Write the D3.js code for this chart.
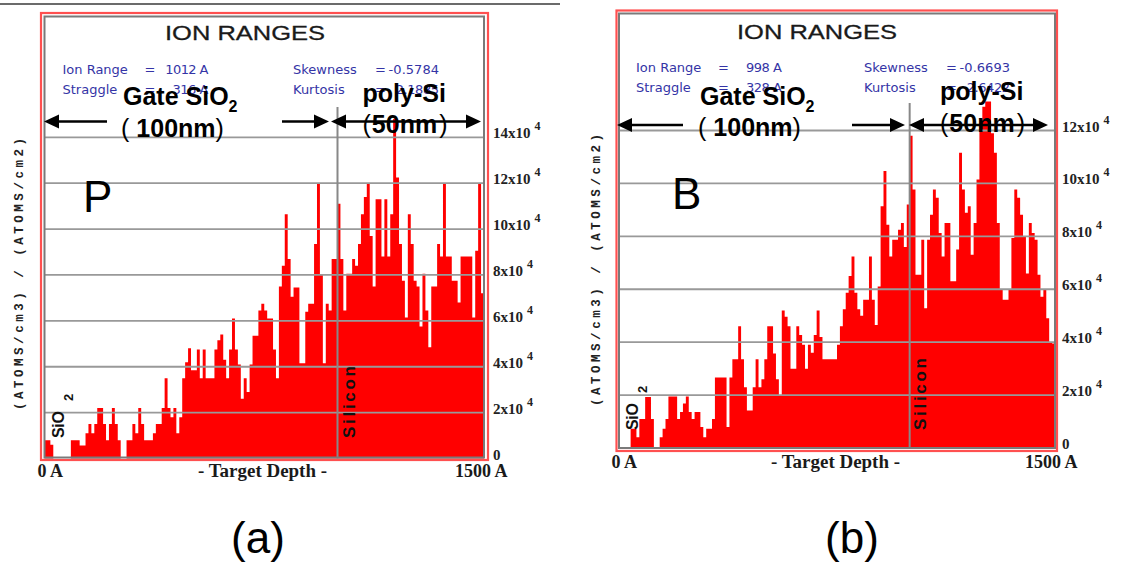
<!DOCTYPE html>
<html>
<head>
<meta charset="utf-8">
<script src="https://cdn.jsdelivr.net/npm/d3@7"></script>
<style>
  body { margin: 0; background: #fff; }
  svg { display: block; }
</style>
</head>
<body>
<svg id="chart" width="1122" height="564"></svg>
<script>
// depth bins of 10 A from 0 to 1500 A, gate oxide / silicon boundary at 1000 A
const binWidth = 10;
const depthMax = 1500;
const siliconDepth = 1000;

// (a) phosphorus, values in units of 1e4 (atoms/cm3)/(atoms/cm2)
const pValues = [
  0.8, 0.8, 0.6, 0, 0, 0, 0, 0, 0, 0.8,
  0.8, 0.8, 0.57, 0.57, 1.1, 1.5, 1.1, 1.5, 2.2, 2.2,
  1.5, 0.8, 1.5, 2.2, 1.5, 0.8, 0, 0, 0.8, 0.8,
  1.5, 1.1, 2.2, 1.5, 0.8, 0.8, 0.8, 1.1, 1.5, 1.5,
  2.2, 3.5, 2.2, 1.8, 2.2, 1.1, 1.8, 3.5, 4.2, 4.8,
  3.85, 3.85, 4.75, 3.5, 4.75, 3.5, 3.5, 3.5, 4.75, 5.15,
  5.4, 4.3, 3.5, 4.75, 6.1, 4.75, 4.1, 2.6, 3.5, 2.9,
  4.1, 5.35, 5.35, 6.45, 6.75, 6.45, 6.1, 6.1, 4.75, 3.5,
  7.5, 8.4, 10.65, 8.7, 7.05, 7.45, 7.45, 4.15, 4.15, 6.4,
  6.75, 6.75, 9.35, 12, 8.0, 4.15, 6.75, 6.45, 8.7, 8.7,
  11.1, 8.7, 6.45, 8.05, 8.05, 8.7, 8.4, 9.35, 10.65, 11.4,
  12, 9.7, 7.5, 11.3, 11.3, 8.8, 11.3, 8.8, 10.65, 14.8,
  12.25, 9.35, 7.75, 6.15, 10.65, 9.35, 7.75, 7.5, 5.75, 8.05,
  6.45, 4.85, 7.5, 7.5, 9.35, 8.8, 12, 8.8, 8.8, 7.75,
  7.75, 6.8, 8.8, 8.8, 8.8, 8.8, 6.15, 9.05, 12, 7.2
];

// (b) boron
const bValues = [
  0, 0, 0, 0, 0.73, 0.73, 0.41, 1.1, 1.1, 1.93,
  1.93, 1.1, 0, 0, 0.41, 0.73, 1.1, 1.95, 1.95, 1.95,
  1.1, 1.36, 1.68, 1.95, 1.36, 1.1, 1.36, 1.36, 0.79, 0.41,
  0.73, 0.73, 1.1, 2.66, 2.66, 2.66, 2.66, 0.79, 2.66, 3.35,
  3.35, 4.6, 3.35, 2.3, 1.42, 1.42, 2.3, 3.35, 2.3, 2.6,
  3.35, 4.6, 4.6, 3.57, 2.6, 2.0, 5.2, 4.96, 4.6, 3.0,
  3.0, 4.6, 4.27, 3.9, 3.0, 3.9, 3.6, 4.27, 5.2, 4.2,
  3.35, 3.35, 3.35, 3.35, 3.35, 3.9, 4.6, 5.24, 5.87, 6.5,
  7.24, 5.87, 5.24, 5.0, 5.6, 5.6, 7.24, 5.6, 4.65, 6.1,
  9.14, 10.47, 8.44, 7.24, 7.87, 7.87, 8.25, 8.5, 7.6, 9.2,
  11.8, 9.77, 6.55, 6.55, 7.87, 5.28, 7.87, 8.82, 9.77, 9.46,
  8.13, 7.24, 8.5, 8.5, 6.3, 6.3, 7.5, 11.16, 9.77, 8.89,
  9.14, 7.3, 8.5, 10.15, 12.3, 12.9, 13.1, 13.1, 11.9, 11.16,
  8.5, 5.98, 5.6, 5.6, 5.98, 7.94, 9.77, 9.46, 8.82, 8.0,
  6.6, 8.5, 8.13, 7.87, 6.55, 5.72, 5.98, 4.9, 4.0, 3.95
];

const pTicks = [0, 2, 4, 6, 8, 10, 12, 14];
const bTicks = [0, 2, 4, 6, 8, 10, 12];

const statLabels = ["Ion Range", "Straggle", "Skewness", "Kurtosis"];
const pStatValues = ["1012 A", "316 A", "-0.5784", "2.1885"];
const bStatValues = ["998 A", "328 A", "-0.6693", "2.6422"];

const panels = [
  {
    values: pValues, ticks: pTicks, stats: pStatValues, letter: "P", caption: "(a)",
    plotLeft: 44.5, plotRight: 484, base: 458.5, top: 137.3, yMax: 14,
    outer: [41, 13, 447, 447], inner: [44.5, 16.5, 439.5, 441],
    titleX: 245, titleY: 40,
    statCols: [62.5, 293], statRows: [74, 94],
    gate: [123, 105], gateNm: [121, 136.5], poly: [362.5, 101.5], polyNm: [362.5, 133],
    arrowY: 121.5, arrows: [[107, 44, false], [282, 329, false], [331, 481, true]],
    siTop: 107, letterPos: [83, 212],
    sio2: [64, 438], silicon: [355, 438], yLabel: [23, 410],
    tickX: 493, bottomY: 477, bottomX: [37.5, 198, 455],
    captionX: 258
  },
  {
    values: bValues, ticks: bTicks, stats: bStatValues, letter: "B", caption: "(b)",
    plotLeft: 619, plotRight: 1055, base: 448, top: 130.5, yMax: 12,
    outer: [616.5, 10.5, 440.5, 440.5], inner: [619, 13.5, 436, 434.5],
    titleX: 817, titleY: 39,
    statCols: [636, 864], statRows: [71.5, 91.5],
    gate: [700, 105], gateNm: [698, 136], poly: [940, 100], polyNm: [940, 131.5],
    arrowY: 125, arrows: [[683, 617, false], [852, 905, false], [909, 1048, true]],
    siTop: 103, letterPos: [672, 209],
    sio2: [638, 430], silicon: [926, 430], yLabel: [600, 406],
    tickX: 1062, bottomY: 468, bottomX: [611.5, 771, 1025],
    captionX: 852
  }
];

const svg = d3.select("#chart");
const sans = "'Liberation Sans', Arial, sans-serif";
const serif = "'Liberation Serif', 'Times New Roman', serif";

// dark rule along the top of panel (a)
svg.append("line")
  .attr("x1", 0).attr("x2", 560).attr("y1", 4).attr("y2", 4)
  .attr("stroke", "#3a3a3a").attr("stroke-width", 1.5);

function drawArrow(g, x1, x2, y, both) {
  const head = 15, half = 7;
  const dir = Math.sign(x2 - x1);
  const a = both ? x1 + dir * head : x1;
  g.append("line").attr("x1", a).attr("x2", x2 - dir * head)
    .attr("y1", y).attr("y2", y).attr("stroke", "#000").attr("stroke-width", 2.5);
  const tri = (tip, d) => `M${tip},${y}L${tip - d * head},${y - half}L${tip - d * head},${y + half}Z`;
  g.append("path").attr("d", tri(x2, dir)).attr("fill", "#000");
  if (both) g.append("path").attr("d", tri(x1, -dir)).attr("fill", "#000");
}

panels.forEach(p => {
  const g = svg.append("g");
  const x = d3.scaleLinear().domain([0, depthMax]).range([p.plotLeft, p.plotRight]);
  const y = d3.scaleLinear().domain([0, p.yMax]).range([p.base, p.top]);

  // histogram as a step area
  const pts = p.values.map((v, i) => [i * binWidth, v]);
  pts.push([depthMax, p.values[p.values.length - 1]]);
  const area = d3.area()
    .curve(d3.curveStepAfter)
    .x(d => x(d[0]))
    .y0(y(0))
    .y1(d => y(d[1]));
  g.append("path").datum(pts).attr("d", area).attr("fill", "#ff0000");

  // gridlines
  g.selectAll(".grid").data(p.ticks.filter(t => t > 0)).enter().append("line")
    .attr("x1", p.plotLeft).attr("x2", p.plotRight)
    .attr("y1", d => y(d)).attr("y2", d => y(d))
    .attr("stroke", "#999").attr("stroke-width", 1.8);

  // silicon boundary
  g.append("line")
    .attr("x1", x(siliconDepth)).attr("x2", x(siliconDepth))
    .attr("y1", p.siTop).attr("y2", p.base)
    .attr("stroke", "#888").attr("stroke-width", 2);

  // frames
  g.append("rect").attr("x", p.outer[0]).attr("y", p.outer[1])
    .attr("width", p.outer[2]).attr("height", p.outer[3])
    .attr("fill", "none").attr("stroke", "#ff5050").attr("stroke-width", 2.2);
  g.append("rect").attr("x", p.inner[0]).attr("y", p.inner[1])
    .attr("width", p.inner[2]).attr("height", p.inner[3])
    .attr("fill", "none").attr("stroke", "#7a7a7a").attr("stroke-width", 2);

  // title
  g.append("text").attr("x", p.titleX).attr("y", p.titleY)
    .attr("text-anchor", "middle").attr("font-family", sans).attr("font-size", 21)
    .attr("fill", "#1a1a1a").attr("stroke", "#1a1a1a").attr("stroke-width", 0.3)
    .attr("textLength", 160).attr("lengthAdjust", "spacingAndGlyphs")
    .text("ION RANGES");

  // stats block
  statLabels.forEach((lab, i) => {
    const cx = p.statCols[Math.floor(i / 2)];
    const cy = p.statRows[i % 2];
    const st = { "font-family": "'DejaVu Sans', sans-serif", "font-size": 13, fill: "#3434a6" };
    const t1 = g.append("text").attr("x", cx).attr("y", cy).text(lab);
    const t2 = g.append("text").attr("x", cx + 82).attr("y", cy).text("=");
    const t3 = g.append("text").attr("x", cx + 146).attr("y", cy).attr("text-anchor", "end")
      .attr("textLength", p.stats[i].length * 7.2).text(p.stats[i]);
    [t1, t2, t3].forEach(t => Object.entries(st).forEach(([k, v]) => t.attr(k, v)));
  });

  // rotated layer names
  const sio = g.append("g").attr("transform", `translate(${p.sio2[0]},${p.sio2[1]}) rotate(-90)`);
  sio.append("text").attr("x", 0).attr("y", 0).attr("font-family", sans).attr("font-weight", "bold")
    .attr("font-size", 16).attr("fill", "#111").attr("textLength", 27).text("SiO");
  sio.append("text").attr("x", 37).attr("y", 9).attr("font-family", sans).attr("font-weight", "bold")
    .attr("font-size", 13).attr("fill", "#111").text("2");

  g.append("text")
    .attr("transform", `translate(${p.silicon[0]},${p.silicon[1]}) rotate(-90)`)
    .attr("font-family", sans).attr("font-weight", "bold").attr("font-size", 17)
    .attr("fill", "#111").attr("textLength", 72).attr("lengthAdjust", "spacing").text("Silicon");

  // y label
  g.append("text")
    .attr("transform", `translate(${p.yLabel[0]},${p.yLabel[1]}) rotate(-90)`)
    .attr("font-family", "'Liberation Mono', monospace").attr("font-weight", "bold")
    .attr("font-size", 12.5).attr("fill", "#222")
    .attr("textLength", 272).attr("lengthAdjust", "spacing")
    .text("(ATOMS/cm3) / (ATOMS/cm2)");

  // big ion letter
  g.append("text").attr("x", p.letterPos[0]).attr("y", p.letterPos[1])
    .attr("font-family", sans).attr("font-size", 44).attr("fill", "#000").text(p.letter);

  // layer annotations
  const gate = g.append("text").attr("x", p.gate[0]).attr("y", p.gate[1])
    .attr("font-family", sans).attr("font-weight", "bold").attr("font-size", 25).attr("fill", "#000");
  gate.append("tspan").text("Gate SiO");
  gate.append("tspan").attr("font-size", 16).attr("dy", 7).text("2");

  const gnm = g.append("text").attr("x", p.gateNm[0]).attr("y", p.gateNm[1])
    .attr("font-family", sans).attr("font-size", 25).attr("fill", "#000");
  gnm.append("tspan").text("(");
  gnm.append("tspan").attr("dx", 7).attr("font-weight", "bold").text("100nm");
  gnm.append("tspan").text(")");

  g.append("text").attr("x", p.poly[0]).attr("y", p.poly[1])
    .attr("font-family", sans).attr("font-weight", "bold").attr("font-size", 25)
    .attr("fill", "#000").text("poly-Si");

  const pnm = g.append("text").attr("x", p.polyNm[0]).attr("y", p.polyNm[1])
    .attr("font-family", sans).attr("font-size", 25).attr("fill", "#000");
  pnm.append("tspan").text("(");
  pnm.append("tspan").attr("dx", 1).attr("font-weight", "bold").text("50nm");
  pnm.append("tspan").attr("dx", 2).text(")");

  p.arrows.forEach(a => drawArrow(g, a[0], a[1], p.arrowY, a[2]));

  // right tick labels
  p.ticks.forEach(t => {
    const ty = y(t);
    const lab = g.append("text").attr("x", p.tickX).attr("y", ty + 1)
      .attr("font-family", serif).attr("font-weight", "bold").attr("font-size", 15)
      .attr("fill", "#222").text(t === 0 ? "0" : t + "x10");
    if (t > 0) {
      const w = lab.node().getComputedTextLength();
      g.append("text").attr("x", p.tickX + w + 4).attr("y", ty - 7)
        .attr("font-family", serif).attr("font-weight", "bold").attr("font-size", 12)
        .attr("fill", "#222").text("4");
    }
  });

  // bottom depth labels
  const bst = t => t.attr("font-family", serif).attr("font-weight", "bold")
    .attr("font-size", 18).attr("fill", "#1a1a1a");
  bst(g.append("text").attr("x", p.bottomX[0]).attr("y", p.bottomY).text("0 A"));
  bst(g.append("text").attr("x", p.bottomX[1]).attr("y", p.bottomY)
    .attr("textLength", 129).attr("lengthAdjust", "spacingAndGlyphs").text("- Target Depth -"));
  bst(g.append("text").attr("x", p.bottomX[2]).attr("y", p.bottomY).text("1500 A"));

  // caption
  svg.append("text").attr("x", p.captionX).attr("y", 553).attr("text-anchor", "middle")
    .attr("font-family", sans).attr("font-size", 44).attr("fill", "#000").text(p.caption);
});
</script>
</body>
</html>
